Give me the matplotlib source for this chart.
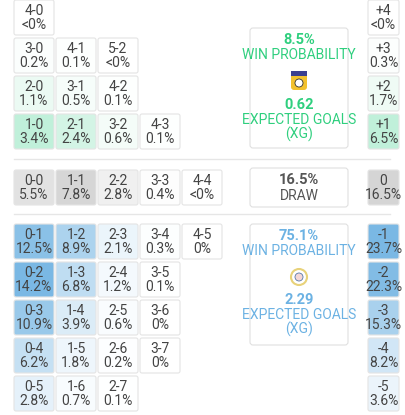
import matplotlib
matplotlib.use("Agg")
import matplotlib.pyplot as plt
from matplotlib.patches import FancyBboxPatch, Circle
from matplotlib.colors import to_rgb

plt.rcParams["font.family"] = ["Roboto", "DejaVu Sans"]

# ── Data ──────────────────────────────────────────────────────────────────────
home_win_scores = ["4-0", "3-0", "4-1", "5-2", "2-0", "3-1", "4-2", "1-0", "2-1", "3-2", "4-3"]
home_win_probs  = ["<0%", "0.2%", "0.1%", "<0%", "1.1%", "0.5%", "0.1%", "3.4%", "2.4%", "0.6%", "0.1%"]
draw_scores     = ["0-0", "1-1", "2-2", "3-3", "4-4"]
draw_probs      = ["5.5%", "7.8%", "2.8%", "0.4%", "<0%"]
away_win_scores = ["0-1", "1-2", "2-3", "3-4", "4-5", "0-2", "1-3", "2-4", "3-5",
                   "0-3", "1-4", "2-5", "3-6", "0-4", "1-5", "2-6", "3-7", "0-5", "1-6", "2-7"]
away_win_probs  = ["12.5%", "8.9%", "2.1%", "0.3%", "0%", "14.2%", "6.8%", "1.2%", "0.1%",
                   "10.9%", "3.9%", "0.6%", "0%", "6.2%", "1.8%", "0.2%", "0%", "2.8%", "0.7%", "0.1%"]
margins      = ["+4", "+3", "+2", "+1", "0", "-1", "-2", "-3", "-4", "-5"]
margin_probs = ["<0%", "0.3%", "1.7%", "6.5%", "16.5%", "23.7%", "22.3%", "15.3%", "8.2%", "3.6%"]

home_win, home_xg = "8.5%", "0.62"
draw_total = "16.5%"
away_win, away_xg = "75.1%", "2.29"

GREEN, BLUE, GRAY = "#1ec97a", "#5aa7dd", "#a8a8a8"
GREEN_TXT, BLUE_TXT = "#2fcf7e", "#6cb2e3"
STRENGTH = {GREEN: 0.28, BLUE: 0.85, GRAY: 0.55}

def pval(s):
    return 0.0 if s.startswith("<") else float(s.rstrip("%"))

def shade(base, v, vmax):
    t = min(1.0, v / vmax) * STRENGTH[base]
    r, g, b = to_rgb(base)
    return (1 - t * (1 - r), 1 - t * (1 - g), 1 - t * (1 - b))

fig = plt.figure(figsize=(4.05, 4.15), dpi=100)
ax = fig.add_axes([0, 0, 1, 1])
ax.set_xlim(0, 405)
ax.set_ylim(415, 0)
ax.axis("off")

CW, CH = 40, 35
col_x = [14 + 42 * i for i in range(5)]

def cell(x, y, top, bot, color, w=CW, h=CH):
    ax.add_patch(FancyBboxPatch((x, y), w, h, boxstyle="round,pad=0,rounding_size=2",
                                fc=color, ec="#e4e4e4", lw=0.8))
    ax.text(x + w / 2, y + h * 0.32, top, ha="center", va="center", fontsize=10, color="#444")
    ax.text(x + w / 2, y + h * 0.72, bot, ha="center", va="center", fontsize=10, color="#444")

# home wins: row by goal difference, column by away goals
home_rows = {4: 0, 3: 38, 2: 76, 1: 114}
for s, p in zip(home_win_scores, home_win_probs):
    a, b = map(int, s.split("-"))
    cell(col_x[b], home_rows[a - b], s, p, shade(GREEN, pval(p), 3.4))

ax.plot([14, 390], [159, 159], color="#e6e6e6", lw=1)
for s, p in zip(draw_scores, draw_probs):
    a = int(s.split("-")[0])
    cell(col_x[a], 170, s, p, shade(GRAY, pval(p), 9.0))
ax.plot([14, 390], [214, 214], color="#e6e6e6", lw=1)

away_rows = {1: 224, 2: 262, 3: 300, 4: 338, 5: 376}
for s, p in zip(away_win_scores, away_win_probs):
    a, b = map(int, s.split("-"))
    cell(col_x[a], away_rows[b - a], s, p, shade(BLUE, pval(p), 15.0))

# goal margin column
margin_y = [0, 38, 76, 114, 170, 224, 262, 300, 338, 376]
for m, p, y in zip(margins, margin_probs, margin_y):
    d = int(m)
    base = GREEN if d > 0 else (GRAY if d == 0 else BLUE)
    vmax = {GREEN: 6.5, GRAY: 19.0, BLUE: 25.0}[base]
    cell(368, y, m, p, shade(base, pval(p), vmax), w=31)

def summary(y, h, color, lines, crest):
    ax.add_patch(FancyBboxPatch((250, y), 98, h, boxstyle="round,pad=0,rounding_size=3",
                                fc="white", ec="#e0e0e0", lw=0.8))
    for ty, txt, bold in lines:
        ax.text(299, y + ty, txt, ha="center", va="center", fontsize=10.5 if bold else 10,
                color=color, fontweight="bold" if bold else "normal")
    if crest == "home":
        ax.add_patch(FancyBboxPatch((291, y + 43), 16, 19, boxstyle="round,pad=0,rounding_size=3",
                                    fc="#f2c12e", ec="none"))
        ax.add_patch(FancyBboxPatch((291, y + 43), 16, 5, boxstyle="square,pad=0",
                                    fc="#3a3f8f", ec="none"))
        ax.add_patch(Circle((299, y + 55), 4, fc="white", ec="#333", lw=0.6))
    elif crest == "away":
        ax.add_patch(Circle((299, y + 53), 8, fc="white", ec="#e8d27a", lw=1.5))
        ax.add_patch(Circle((299, y + 53), 4, fc="#f3d7d7", ec="#5577aa", lw=0.6))

summary(28, 120, GREEN_TXT,
        [(12, home_win, True), (27, "WIN PROBABILITY", False),
         (77, home_xg, True), (92, "EXPECTED GOALS", False), (106, "(XG)", False)], "home")
summary(168, 39, "#555",
        [(12, draw_total, True), (28, "DRAW", False)], None)
summary(224, 121, BLUE_TXT,
        [(12, away_win, True), (27, "WIN PROBABILITY", False),
         (76, away_xg, True), (91, "EXPECTED GOALS", False), (105, "(XG)", False)], "away")

fig.savefig("out.png", dpi=100)
